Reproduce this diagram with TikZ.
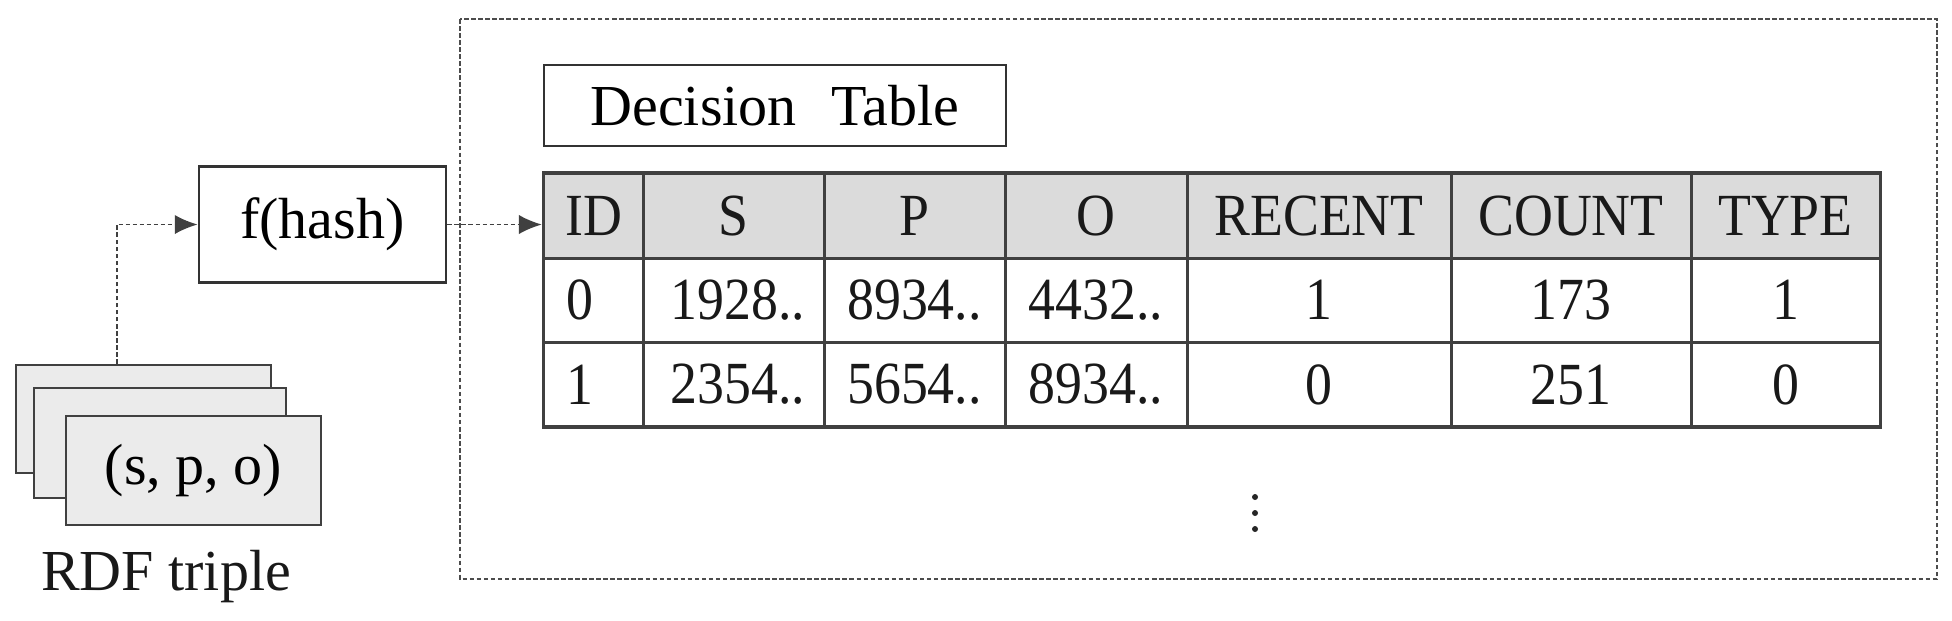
\documentclass[tikz,border=0pt]{standalone}
\usepackage{fontspec}
\setmainfont{Liberation Serif}
\newfontfamily\tblfont[FakeStretch=0.9]{Liberation Serif}
\usetikzlibrary{arrows.meta}
\newcommand\myfs{\fontsize{16.5}{20}\selectfont}
\newcommand\mytfs{\tblfont\fontsize{17}{20}\selectfont}
\begin{document}
\begin{tikzpicture}[x=0.01cm,y=-0.01cm,
  box/.style={draw=black!80, line width=0.75pt, fill=white, inner sep=0pt},
  card/.style={draw=black!75, line width=0.75pt, fill=black!8, inner sep=0pt},
  conn/.style={draw=black!75, line width=0.5pt, dash pattern=on 1.3pt off 0.7pt, -{Latex[length=6.5pt,width=5.5pt]}},
  frame/.style={draw=black!70, line width=0.55pt, dash pattern=on 1.3pt off 0.7pt},
  grid/.style={draw=black!75, line width=0.85pt},
  txt/.style={font=\mytfs, inner sep=0pt, text=black!90},
  hdrfill/.style={fill=black!14}
]
\useasboundingbox (0,0) rectangle (1952,620);

% outer dashed frame
\draw[frame] (460,19) rectangle (1937,579);

% decision table title
\node[box, minimum width=4.62cm, minimum height=0.81cm, font=\myfs] (title) at (775,105.5) {Decision\hspace{0.6em}Table};

% table
\fill[hdrfill] (544,173) rectangle (1880,258);
\node[draw=black!75, line width=1.05pt, minimum width=13.36cm, minimum height=2.54cm, inner sep=0pt] (tbl) at (1212,300) {};
\draw[grid] (544,258) -- (1880,258);
\draw[grid] (544,342) -- (1880,342);
\foreach \x in {643,824,1005,1187,1451,1691} \draw[grid] (\x,173) -- (\x,427);

% header
\node[txt] (hID) at (593.5,216) {ID};
\node[txt] (hS) at (733.5,216) {S};
\node[txt] (hP) at (914.5,216) {P};
\node[txt] (hO) at (1096,216) {O};
\node[txt] (hR) at (1319,216) {RECENT};
\node[txt] (hC) at (1571,216) {COUNT};
\node[txt] (hT) at (1785.5,216) {TYPE};
% row 0
\node[txt, anchor=west] (a1) at (566,300) {0};
\node[txt] (a2) at (738,300) {1928..};
\node[txt] (a3) at (914.5,300) {8934..};
\node[txt] (a4) at (1096,300) {4432..};
\node[txt] (a5) at (1319,300) {1};
\node[txt] (a6) at (1571,300) {173};
\node[txt] (a7) at (1785.5,300) {1};
% row 1
\node[txt, anchor=west] (b1) at (566,384.5) {1};
\node[txt] (b2) at (738,384.5) {2354..};
\node[txt] (b3) at (914.5,384.5) {5654..};
\node[txt] (b4) at (1096,384.5) {8934..};
\node[txt] (b5) at (1319,384.5) {0};
\node[txt] (b6) at (1571,384.5) {251};
\node[txt] (b7) at (1785.5,384.5) {0};

% vertical dots
\fill[black!85] (1255,497) circle (3);
\fill[black!85] (1255,513) circle (3);
\fill[black!85] (1255,529) circle (3);

% hash function
\node[box, minimum width=2.47cm, minimum height=1.16cm, font=\myfs] (fhash) at (322.5,224.5) {f(hash)};

% stacked RDF triples
\node[card, minimum width=2.55cm, minimum height=1.08cm] (c1) at (143.5,419) {};
\node[card, minimum width=2.52cm, minimum height=1.10cm] (c2) at (160,443) {};
\node[card, minimum width=2.55cm, minimum height=1.09cm, font=\myfs] (c3) at (193.5,470.5) {(s, p, o)};
\node[inner sep=0pt, text=black!90, font=\myfs] (rdf) at (166,577) {RDF triple};

% connectors
\coordinate (cs) at (117,0);
\draw[conn] (c1.north -| cs) |- (fhash.west);
\draw[conn] (fhash.east) -- (fhash.east -| tbl.west);
\end{tikzpicture}
\end{document}
